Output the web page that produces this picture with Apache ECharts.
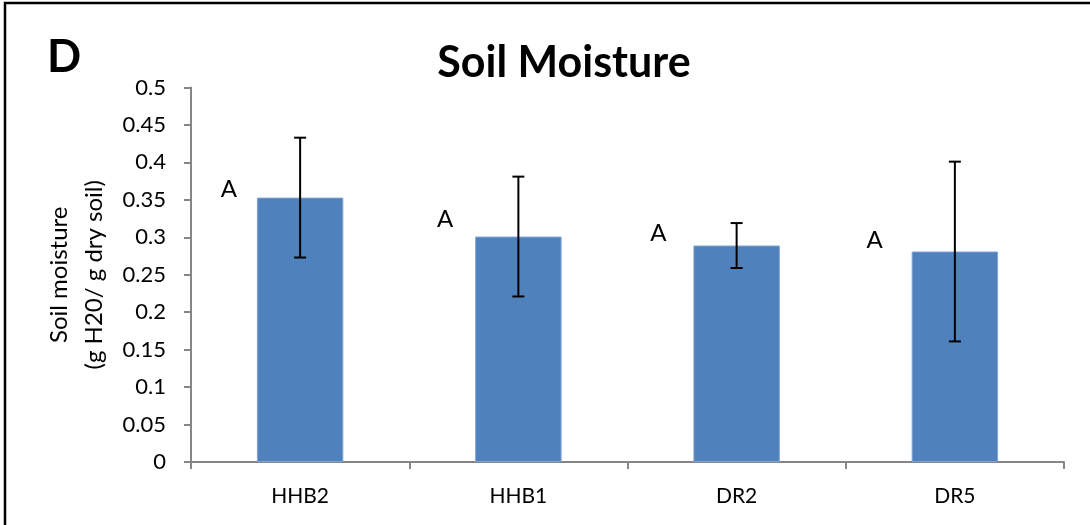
<!DOCTYPE html>
<html>
<head>
<meta charset="utf-8">
<script src="https://cdn.jsdelivr.net/npm/echarts@6/dist/echarts.min.js"></script>
<style>
  html, body { margin: 0; padding: 0; background: #fff; }
  #chart { width: 1090px; height: 525px; }
</style>
</head>
<body>
<div id="chart"></div>
<script>
// Soil moisture by site, mean with error, plus significance letters
const categories = ['HHB2', 'HHB1', 'DR2', 'DR5'];
const moisture = [0.353, 0.301, 0.289, 0.281];
const errors = [0.08, 0.08, 0.03, 0.12];
const groupLetters = ['A', 'A', 'A', 'A'];
const yTicks = [0, 0.05, 0.1, 0.15, 0.2, 0.25, 0.3, 0.35, 0.4, 0.45, 0.5];

// per-bar letter placement, pixels relative to the bar's top-left corner
const letterOffsets = [[-28, -8], [-30, -17], [-35, -12], [-37, -11]];

const FONT = 'Lato, "Open Sans", sans-serif';
const AXIS_GRAY = '#868686';

const chart = echarts.init(document.getElementById('chart'));

const barData = moisture.map((v, i) => ({
  value: v,
  label: {
    show: true,
    formatter: groupLetters[i],
    position: letterOffsets[i],
    align: 'center',
    verticalAlign: 'middle',
    color: '#000',
    fontFamily: FONT,
    fontSize: 24
  }
}));

const errorData = moisture.map((v, i) => [i, v - errors[i], v + errors[i]]);

chart.setOption({
  animation: false,
  backgroundColor: '#fff',
  graphic: [
    {
      type: 'polyline',
      shape: { points: [[5, 600], [5, 3], [1200, 3]] },
      style: { stroke: '#000', lineWidth: 2.5, fill: null }
    },
    {
      type: 'text',
      x: 47,
      y: 57,
      style: { text: 'D', font: 'bold 45px ' + FONT, fill: '#000', verticalAlign: 'middle' }
    }
  ],
  title: {
    text: 'Soil Moisture',
    left: 559,
    top: 37,
    textAlign: 'center',
    textStyle: { fontFamily: FONT, fontWeight: 'bold', fontSize: 43, color: '#000' }
  },
  grid: { left: 191, right: 26, top: 87.5, bottom: 63, containLabel: false },
  xAxis: {
    type: 'category',
    data: categories,
    axisLine: { lineStyle: { color: AXIS_GRAY, width: 2 } },
    axisTick: { show: true, length: 7, alignWithLabel: false, lineStyle: { color: AXIS_GRAY, width: 2 } },
    axisLabel: { color: '#000', fontFamily: FONT, fontSize: 21, margin: 24 }
  },
  yAxis: {
    type: 'value',
    min: 0,
    max: 0.5,
    interval: 0.05,
    name: 'Soil moisture\n(g H20/ g dry soil)',
    nameLocation: 'middle',
    nameGap: 79,
    nameRotate: 90,
    nameTextStyle: { color: '#000', fontFamily: FONT, fontSize: 24, lineHeight: 35 },
    axisLine: { show: true, lineStyle: { color: AXIS_GRAY, width: 2 } },
    axisTick: { show: true, length: 7, lineStyle: { color: AXIS_GRAY, width: 2 } },
    splitLine: { show: false },
    axisLabel: {
      color: '#000', fontFamily: FONT, fontSize: 22, margin: 25,
      formatter: v => {
        const t = yTicks.find(x => Math.abs(x - v) < 1e-9);
        return t === undefined ? '' : String(t);
      }
    }
  },
  series: [
    {
      type: 'bar',
      data: barData,
      barWidth: '39.6%',
      itemStyle: { color: '#4F81BD', borderColor: '#7FA3D3', borderWidth: 1 }
    },
    {
      type: 'custom',
      data: errorData,
      z: 10,
      renderItem: (params, api) => {
        const x = api.value(0);
        const lo = api.coord([x, api.value(1)]);
        const hi = api.coord([x, api.value(2)]);
        const cap = 6;
        const style = { stroke: '#000', lineWidth: 2 };
        return {
          type: 'group',
          children: [
            { type: 'line', shape: { x1: hi[0], y1: hi[1], x2: lo[0], y2: lo[1] }, style },
            { type: 'line', shape: { x1: hi[0] - cap, y1: hi[1], x2: hi[0] + cap, y2: hi[1] }, style },
            { type: 'line', shape: { x1: lo[0] - cap, y1: lo[1], x2: lo[0] + cap, y2: lo[1] }, style }
          ]
        };
      }
    }
  ]
});
</script>
</body>
</html>
